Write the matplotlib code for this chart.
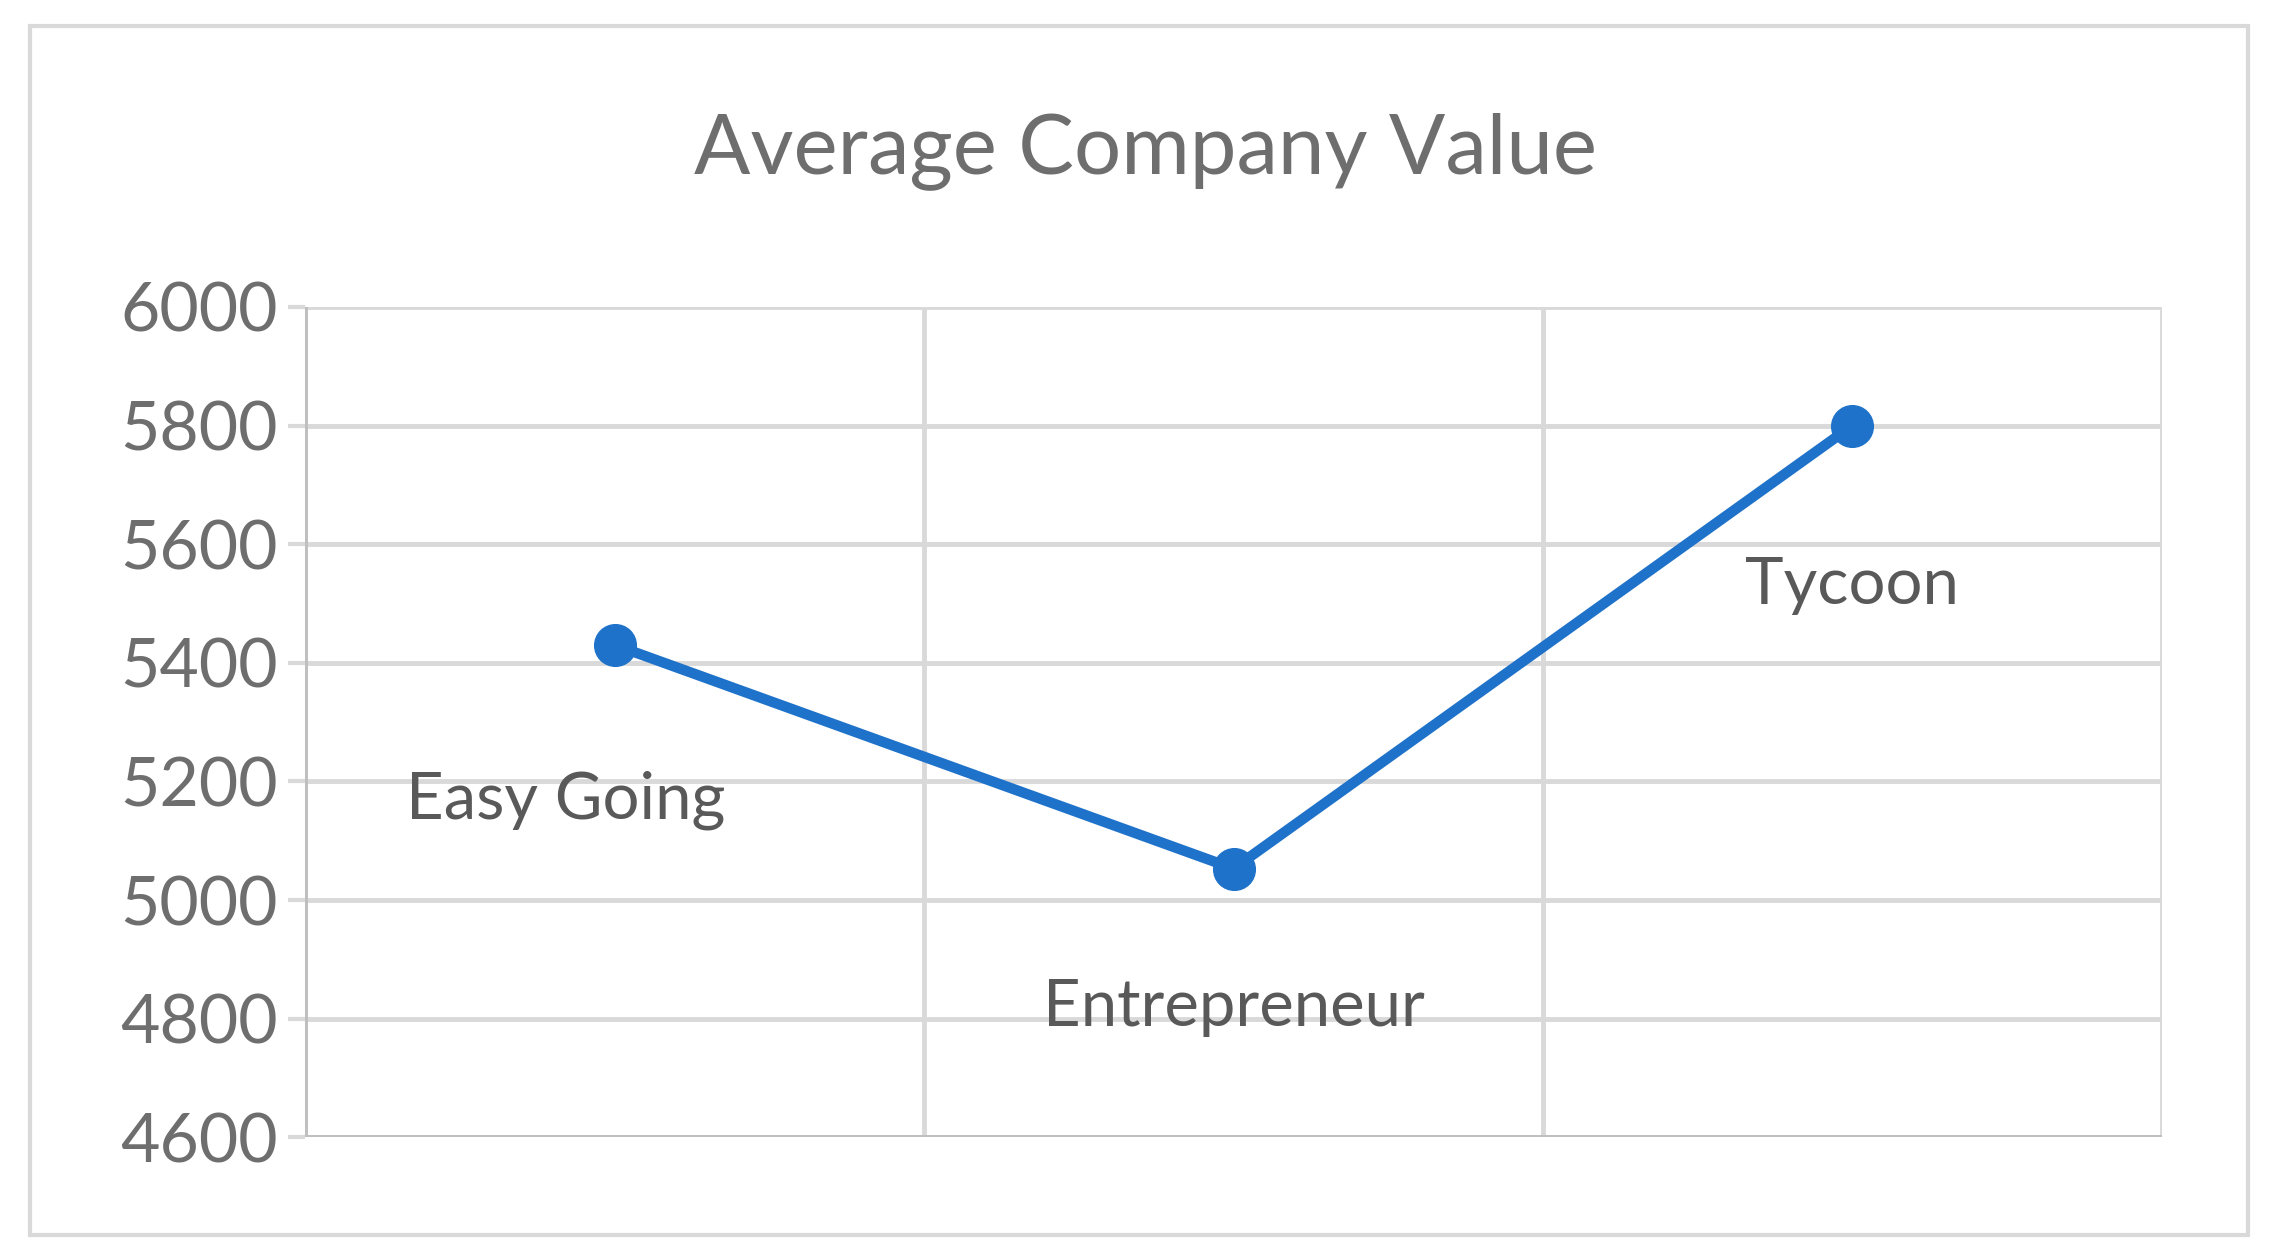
import matplotlib
matplotlib.use("Agg")
import matplotlib.pyplot as plt
from matplotlib.patches import Rectangle

categories = ["Easy Going", "Entrepreneur", "Tycoon"]
values = [5430, 5053, 5800]
yticks = [4600, 4800, 5000, 5200, 5400, 5600, 5800, 6000]

plt.rcParams['font.family'] = ['Lato', 'DejaVu Sans']
fig = plt.figure(figsize=(22.78, 12.58), dpi=100)
fig.patches.append(Rectangle((0.013, 0.018), 0.974, 0.961, transform=fig.transFigure,
                             fill=False, edgecolor='#d9d9d9', linewidth=3))
ax = fig.add_axes([0.134, 0.096, 0.815, 0.66])
xs = [i + 0.5 for i in range(len(categories))]
ax.plot(xs, values, color='#1f72c9', linewidth=7.5, marker='o', markersize=30,
        solid_capstyle='round')
offsets = {"Easy Going": (-35, -112), "Entrepreneur": (0, -100), "Tycoon": (0, -115)}
for x, v, c in zip(xs, values, categories):
    ax.annotate(c, (x, v), xytext=offsets[c],
                textcoords='offset points', ha='center', va='center',
                fontsize=47, color='#595959')
ax.set_xlim(0, 3)
ax.set_ylim(4600, 6000)
ax.set_yticks(yticks)
ax.set_xticks([0, 1, 2, 3])
ax.set_xticklabels([])
ax.grid(True, color='#d9d9d9', linewidth=3.5)
ax.set_axisbelow(True)
for s in ax.spines.values():
    s.set_visible(False)
ax.tick_params(axis='y', labelsize=49, labelcolor='#6e6e6e', length=12, width=3,
               color='#d9d9d9', pad=8)
ax.tick_params(axis='x', length=0)
ax.axvline(0, color='#bfbfbf', linewidth=3.5)
ax.axhline(4600, color='#bfbfbf', linewidth=3.5)
fig.text(0.503, 0.88, "Average Company Value", ha='center', va='center',
         fontsize=60, color='#6e6e6e')
fig.savefig("out.png", dpi=100)
